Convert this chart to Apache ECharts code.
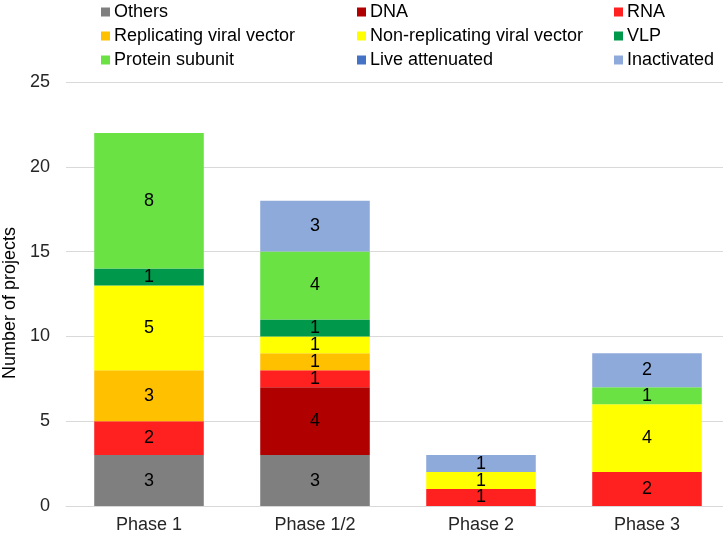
<!DOCTYPE html>
<html>
<head>
<meta charset="utf-8">
<script src="https://cdn.jsdelivr.net/npm/echarts@6/dist/echarts.min.js"></script>
<style>
html,body{margin:0;padding:0;background:#fff;}
#chart{width:723px;height:539px;}
</style>
</head>
<body>
<div id="chart"></div>
<script>
var categories = ['Phase 1', 'Phase 1/2', 'Phase 2', 'Phase 3'];
var seriesNames = ['Others', 'DNA', 'RNA', 'Replicating viral vector', 'Non-replicating viral vector', 'VLP', 'Protein subunit', 'Live attenuated', 'Inactivated'];
var others       = [3, 3, 0, 0];
var dna          = [0, 4, 0, 0];
var rna          = [2, 1, 1, 2];
var replicating  = [3, 1, 0, 0];
var nonReplicating = [5, 1, 1, 4];
var vlp          = [1, 1, 0, 0];
var protein      = [8, 4, 0, 1];
var live         = [0, 0, 0, 0];
var inactivated  = [0, 3, 1, 2];
var yTicks = [0, 5, 10, 15, 20, 25];

var values = [others, dna, rna, replicating, nonReplicating, vlp, protein, live, inactivated];
var colors = ['#7f7f7f', '#b00000', '#ff2020', '#ffc000', '#ffff00', '#00984a', '#6ae244', '#4472c4', '#8eaadb'];
var font = 'Liberation Sans, Arial, sans-serif';

var series = seriesNames.map(function (name, i) {
  return {
    name: name,
    type: 'bar',
    stack: 'total',
    barCategoryGap: '34%',
    itemStyle: { color: colors[i] },
    label: {
      show: true,
      position: 'inside',
      color: '#000',
      fontSize: 18,
      fontFamily: font,
      formatter: function (p) { return p.value ? String(p.value) : ''; }
    },
    emphasis: { disabled: true },
    data: values[i].map(function (v) { return v === 0 ? null : v; })
  };
});

function legendCol(names, left) {
  return {
    orient: 'vertical',
    left: left,
    top: -2,
    itemWidth: 9,
    itemHeight: 9,
    itemGap: 6,
    icon: 'rect',
    selectedMode: false,
    textStyle: { fontSize: 18, fontFamily: font, color: '#000', padding: [0, 0, 0, -1] },
    data: names
  };
}

var chart = echarts.init(document.getElementById('chart'));
chart.setOption({
  animation: false,
  legend: [
    legendCol(['Others', 'Replicating viral vector', 'Protein subunit'], 96),
    legendCol(['DNA', 'Non-replicating viral vector', 'Live attenuated'], 352),
    legendCol(['RNA', 'VLP', 'Inactivated'], 609)
  ],
  grid: { left: 66, width: 664, top: 82, bottom: 33, outerBoundsMode: 'none', containLabel: false },
  xAxis: {
    type: 'category',
    data: categories,
    axisLine: { lineStyle: { color: '#d9d9d9' } },
    axisTick: { show: false },
    axisLabel: { fontSize: 18, fontFamily: font, color: '#262626', margin: 10 }
  },
  yAxis: {
    type: 'value',
    min: yTicks[0],
    max: yTicks[yTicks.length - 1],
    interval: 5,
    name: 'Number of projects',
    nameLocation: 'middle',
    nameGap: 46,
    nameTextStyle: { fontSize: 18, fontFamily: font, color: '#000', padding: [0, 18, 0, 0] },
    axisLine: { show: false },
    axisTick: { show: false },
    splitLine: { lineStyle: { color: '#d9d9d9', width: 1 } },
    axisLabel: { fontSize: 18, fontFamily: font, color: '#262626', margin: 16 }
  },
  series: series
});
</script>
</body>
</html>
